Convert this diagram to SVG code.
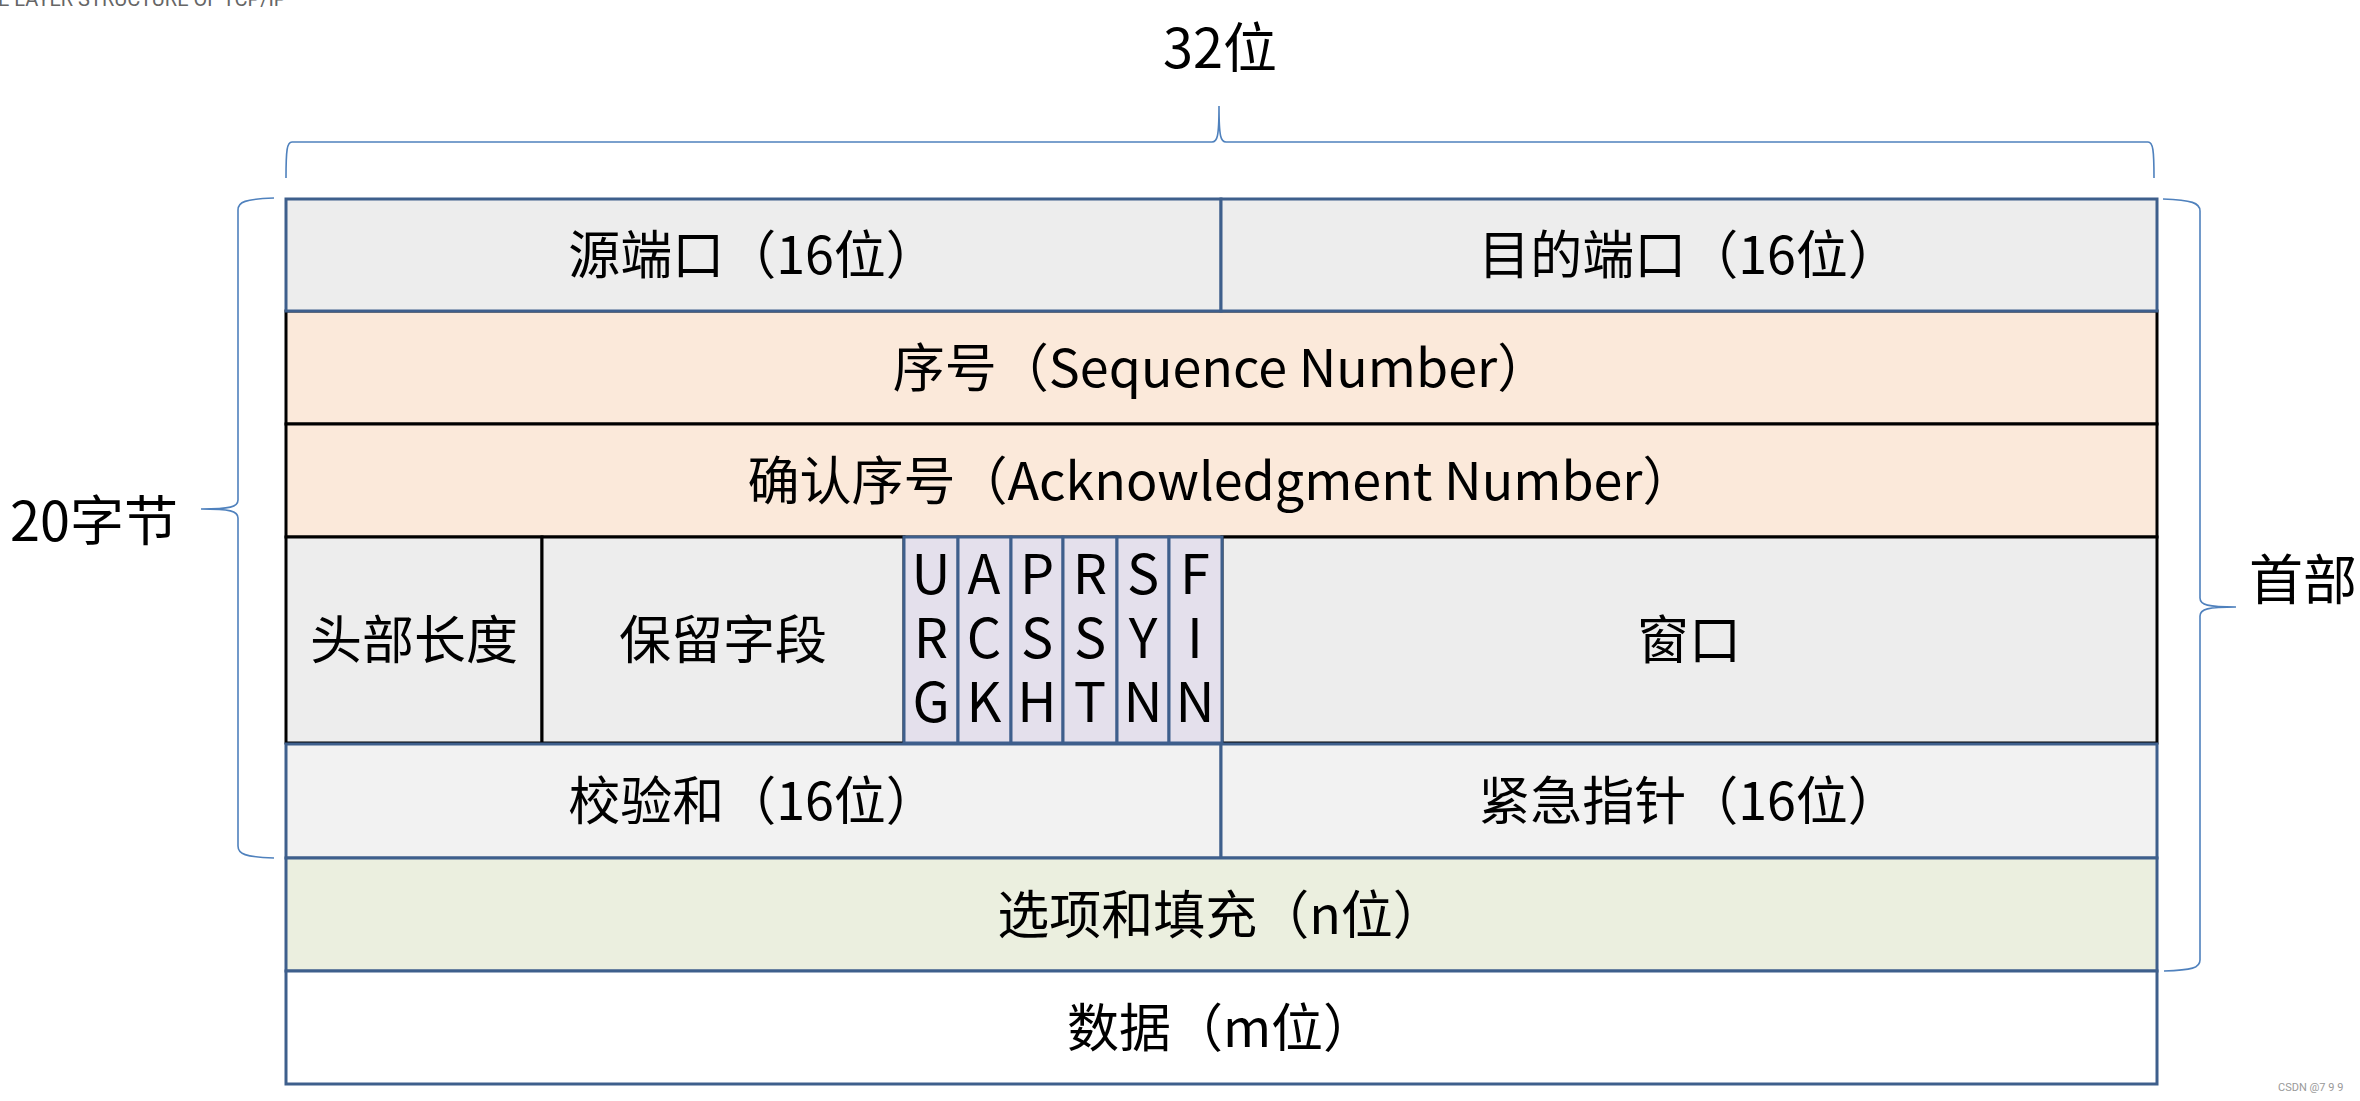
<svg xmlns="http://www.w3.org/2000/svg" width="2360" height="1101" viewBox="0 0 2360 1101">
<style>
.t{font-family:"Noto Sans CJK SC","Noto Sans",sans-serif;font-size:52px;fill:#000;text-anchor:middle}
.f{font-family:"Noto Sans CJK SC","Noto Sans",sans-serif;font-size:54px;fill:#000;text-anchor:middle}
.lbl{font-family:"Noto Sans CJK SC","Noto Sans",sans-serif;font-size:54px;fill:#000}
.blue{stroke:#3E5F8C;stroke-width:3}
.black{stroke:#000;stroke-width:3}
.brace{fill:none;stroke:#4F81BD;stroke-width:1.6}
</style>
<rect width="2360" height="1101" fill="#fff"/>
<text x="-2" y="6" font-family="Roboto,'Liberation Sans',sans-serif" font-size="20" fill="#666">E LAYER STRUCTURE OF TCP/IP</text>

<g id="braces">
<path class="brace" d="M286,178 C286,150 287,142 292,142 L1212,142 C1217,142 1219,138 1219,106 C1219,138 1221,142 1226,142 L2148,142 C2153,142 2154,150 2154,178"/>
<path class="brace" d="M274,198 C245,199 238,202 238,210 L238,500 C238,507 230,509 201,509 C230,509 238,511 238,518 L238,846 C238,854 245,857 274,858"/>
<path class="brace" d="M2163,199 C2192,200 2200,203 2200,211 L2200,598 C2200,605 2208,607 2236,607 C2208,607 2200,609 2200,616 L2200,960 C2200,968 2192,970 2164,971"/>
</g>

<g id="label-32bit"><text class="lbl" x="1220" y="68" text-anchor="middle">32位</text></g>
<g id="label-20byte"><text class="lbl" x="10" y="541">20字节</text></g>
<g id="label-header"><text class="lbl" x="2249" y="600">首部</text></g>

<g id="seq">
<rect class="black" x="286" y="311" width="1871" height="113" fill="#FBE9DA"/>
<text class="t" x="1221" y="387">序号（Sequence Number）</text>
</g>
<g id="ack">
<rect class="black" x="286" y="424" width="1871" height="113" fill="#FBE9DA"/>
<text class="t" x="1221" y="500">确认序号（Acknowledgment Number）</text>
</g>
<g id="src-port">
<rect class="blue" x="286" y="199" width="935" height="112" fill="#EDEDED"/>
<text class="t" x="753" y="274">源端口（16位）</text>
</g>
<g id="dst-port">
<rect class="blue" x="1221" y="199" width="936" height="112" fill="#EDEDED"/>
<text class="t" x="1689" y="274">目的端口（16位）</text>
</g>

<g id="hdr-len">
<rect class="black" x="286" y="537" width="256" height="206" fill="#EDEDED"/>
<text class="t" x="414" y="659">头部长度</text>
</g>
<g id="reserved">
<rect class="black" x="542" y="537" width="362" height="206" fill="#EDEDED"/>
<text class="t" x="723" y="659">保留字段</text>
</g>
<g id="window">
<rect class="black" x="1222" y="537" width="935" height="206" fill="#EDEDED"/>
<text class="t" x="1689" y="659">窗口</text>
</g>
<g id="flag-urg">
<rect class="blue" x="904" y="537" width="54" height="206" fill="#E4E0EC"/>
<text class="f" x="931" y="594">U</text><text class="f" x="931" y="658">R</text><text class="f" x="931" y="722">G</text>
</g>
<g id="flag-ack">
<rect class="blue" x="958" y="537" width="53" height="206" fill="#E4E0EC"/>
<text class="f" x="984" y="594">A</text><text class="f" x="984" y="658">C</text><text class="f" x="984" y="722">K</text>
</g>
<g id="flag-psh">
<rect class="blue" x="1011" y="537" width="52" height="206" fill="#E4E0EC"/>
<text class="f" x="1037" y="594">P</text><text class="f" x="1037" y="658">S</text><text class="f" x="1037" y="722">H</text>
</g>
<g id="flag-rst">
<rect class="blue" x="1063" y="537" width="54" height="206" fill="#E4E0EC"/>
<text class="f" x="1090" y="594">R</text><text class="f" x="1090" y="658">S</text><text class="f" x="1090" y="722">T</text>
</g>
<g id="flag-syn">
<rect class="blue" x="1117" y="537" width="52" height="206" fill="#E4E0EC"/>
<text class="f" x="1143" y="594">S</text><text class="f" x="1143" y="658">Y</text><text class="f" x="1143" y="722">N</text>
</g>
<g id="flag-fin">
<rect class="blue" x="1169" y="537" width="53" height="206" fill="#E4E0EC"/>
<text class="f" x="1195" y="594">F</text><text class="f" x="1195" y="658">I</text><text class="f" x="1195" y="722">N</text>
</g>

<g id="checksum">
<rect class="blue" x="286" y="744" width="935" height="114" fill="#F2F2F2"/>
<text class="t" x="753" y="820">校验和（16位）</text>
</g>
<g id="urgent">
<rect class="blue" x="1221" y="744" width="936" height="114" fill="#F2F2F2"/>
<text class="t" x="1689" y="820">紧急指针（16位）</text>
</g>
<g id="options">
<rect class="blue" x="286" y="858" width="1871" height="113" fill="#EBEFDF"/>
<text class="t" x="1221" y="934">选项和填充（n位）</text>
</g>
<g id="data">
<rect class="blue" x="286" y="971" width="1871" height="113" fill="#FFFFFF"/>
<text class="t" x="1221" y="1047">数据（m位）</text>
</g>

<text x="2278" y="1091" font-family="Roboto,'Liberation Sans',sans-serif" font-size="11" fill="#999">CSDN @7 9 9</text>
</svg>
